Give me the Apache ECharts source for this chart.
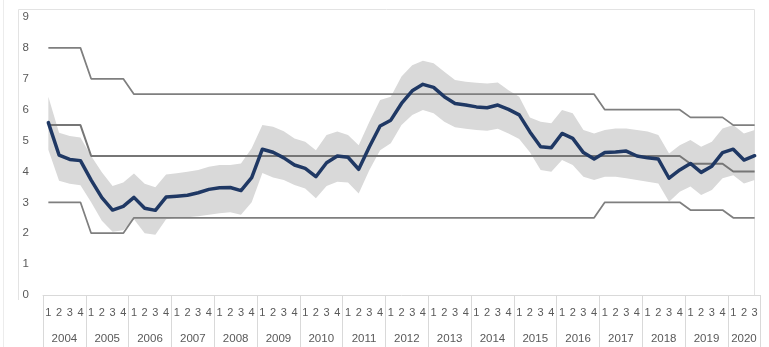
<!DOCTYPE html>
<html>
<head>
<meta charset="utf-8">
<script src="https://cdn.jsdelivr.net/npm/echarts@6/dist/echarts.min.js"></script>
<style>
  html, body { margin: 0; padding: 0; background: #ffffff; }
  #chart { width: 769px; height: 347px; }
</style>
</head>
<body>
<div id="chart"></div>
<script>
// Years on the axis and how many quarters each one covers
const years = ['2004','2005','2006','2007','2008','2009','2010','2011','2012',
               '2013','2014','2015','2016','2017','2018','2019','2020'];
const quartersPerYear = [4,4,4,4,4,4,4,4,4,4,4,4,4,4,4,4,3];

// Expected inflation (%), one value per quarter
const expected = [
  5.58, 4.53, 4.39, 4.35,   // 2004
  3.72, 3.15, 2.75, 2.87,   // 2005
  3.16, 2.81, 2.74, 3.17,   // 2006
  3.20, 3.23, 3.31, 3.42,   // 2007
  3.47, 3.48, 3.38, 3.80,   // 2008
  4.72, 4.62, 4.44, 4.21,   // 2009
  4.10, 3.83, 4.28, 4.50,   // 2010
  4.46, 4.07, 4.80, 5.47,   // 2011
  5.66, 6.20, 6.61, 6.82,   // 2012
  6.72, 6.42, 6.20, 6.15,   // 2013
  6.09, 6.06, 6.15, 6.01,   // 2014
  5.83, 5.28, 4.80, 4.77,   // 2015
  5.23, 5.07, 4.61, 4.40,   // 2016
  4.61, 4.63, 4.66, 4.50,   // 2017
  4.44, 4.40, 3.78, 4.05,   // 2018
  4.26, 3.97, 4.17, 4.61,   // 2019
  4.72, 4.37, 4.51          // 2020
];

// Dispersion band around the expectation: lower and upper bounds
const bandLow = [
  4.70, 3.70, 3.60, 3.55,
  3.00, 2.40, 2.05, 2.10,
  2.45, 2.00, 1.95, 2.45,
  2.50, 2.52, 2.55, 2.60,
  2.65, 2.68, 2.60, 3.00,
  3.95, 3.80, 3.72, 3.56,
  3.45, 3.13, 3.53, 3.67,
  3.64, 3.29, 4.05, 4.69,
  4.91, 5.50, 5.83, 5.99,
  5.88, 5.61, 5.43, 5.38,
  5.34, 5.32, 5.38, 5.23,
  5.05, 4.62, 4.05, 3.99,
  4.37, 4.21, 3.83, 3.72,
  3.83, 3.83, 3.78, 3.72,
  3.67, 3.61, 3.02, 3.34,
  3.51, 3.24, 3.40, 3.78,
  3.88, 3.61, 3.72
];
const bandHigh = [
  6.42, 5.25, 5.15, 5.10,
  4.50, 3.97, 3.53, 3.64,
  3.93, 3.60, 3.49, 3.90,
  3.94, 3.99, 4.05, 4.15,
  4.21, 4.21, 4.26, 4.75,
  5.50, 5.45, 5.30, 5.07,
  4.96, 4.69, 5.18, 5.29,
  5.18, 4.85, 5.61, 6.31,
  6.42, 7.07, 7.44, 7.58,
  7.50, 7.23, 6.96, 6.90,
  6.87, 6.85, 6.88, 6.63,
  6.42, 5.75, 5.61, 5.56,
  5.99, 5.88, 5.34, 5.23,
  5.34, 5.39, 5.39, 5.34,
  5.29, 5.18, 4.58, 4.85,
  5.02, 4.80, 4.96, 5.39,
  5.50, 5.23, 5.34
];

// Inflation target and its tolerance interval, per quarter
const targetUpper = [
  8, 8, 8, 8,
  7, 7, 7, 7,
  6.5, 6.5, 6.5, 6.5,
  6.5, 6.5, 6.5, 6.5,
  6.5, 6.5, 6.5, 6.5,
  6.5, 6.5, 6.5, 6.5,
  6.5, 6.5, 6.5, 6.5,
  6.5, 6.5, 6.5, 6.5,
  6.5, 6.5, 6.5, 6.5,
  6.5, 6.5, 6.5, 6.5,
  6.5, 6.5, 6.5, 6.5,
  6.5, 6.5, 6.5, 6.5,
  6.5, 6.5, 6.5, 6.5,
  6, 6, 6, 6,
  6, 6, 6, 6,
  5.75, 5.75, 5.75, 5.75,
  5.5, 5.5, 5.5
];
const targetCenter = [
  5.5, 5.5, 5.5, 5.5,
  4.5, 4.5, 4.5, 4.5,
  4.5, 4.5, 4.5, 4.5,
  4.5, 4.5, 4.5, 4.5,
  4.5, 4.5, 4.5, 4.5,
  4.5, 4.5, 4.5, 4.5,
  4.5, 4.5, 4.5, 4.5,
  4.5, 4.5, 4.5, 4.5,
  4.5, 4.5, 4.5, 4.5,
  4.5, 4.5, 4.5, 4.5,
  4.5, 4.5, 4.5, 4.5,
  4.5, 4.5, 4.5, 4.5,
  4.5, 4.5, 4.5, 4.5,
  4.5, 4.5, 4.5, 4.5,
  4.5, 4.5, 4.5, 4.5,
  4.25, 4.25, 4.25, 4.25,
  4, 4, 4
];
const targetLower = [
  3, 3, 3, 3,
  2, 2, 2, 2,
  2.5, 2.5, 2.5, 2.5,
  2.5, 2.5, 2.5, 2.5,
  2.5, 2.5, 2.5, 2.5,
  2.5, 2.5, 2.5, 2.5,
  2.5, 2.5, 2.5, 2.5,
  2.5, 2.5, 2.5, 2.5,
  2.5, 2.5, 2.5, 2.5,
  2.5, 2.5, 2.5, 2.5,
  2.5, 2.5, 2.5, 2.5,
  2.5, 2.5, 2.5, 2.5,
  2.5, 2.5, 2.5, 2.5,
  3, 3, 3, 3,
  3, 3, 3, 3,
  2.75, 2.75, 2.75, 2.75,
  2.5, 2.5, 2.5
];

// Value axis ticks
const yMin = 0, yMax = 9, yStep = 1;

// Category keys "year-quarter"
const categories = [];
years.forEach(function (y, k) {
  for (let q = 1; q <= quartersPerYear[k]; q++) categories.push(y + '-' + q);
});
const bandSpan = bandHigh.map(function (h, i) { return +(h - bandLow[i]).toFixed(2); });

function quarterOf(key) { return key.split('-')[1]; }
function yearOf(key) { return key.split('-')[0]; }
function isFullYear(y) { return quartersPerYear[years.indexOf(y)] === 4; }

const labelFont = 'Liberation Sans, Arial, sans-serif';
const labelColor = '#595959';
const tableLine = '#d9d9d9';
const targetColor = '#7f7f7f';

const chart = echarts.init(document.getElementById('chart'), null, { renderer: 'canvas' });

chart.setOption({
  animation: false,
  backgroundColor: '#ffffff',
  grid: { left: 43, right: 9, top: 17, bottom: 52, containLabel: false },
  graphic: [
    // light chart-area frame
    { type: 'polyline', silent: true, z: -1,
      shape: { points: [[18.5, 300], [18.5, 9.5], [754.5, 9.5], [754.5, 295]] },
      style: { fill: null, stroke: '#e3e3e3', lineWidth: 1 } },
    { type: 'line', silent: true, z: -1,
      shape: { x1: 3.5, y1: 0, x2: 3.5, y2: 347 },
      style: { stroke: '#ececec', lineWidth: 1 } }
  ],
  xAxis: [
    {
      // quarter row, with year separators drawn as long ticks
      type: 'category',
      data: categories,
      boundaryGap: true,
      position: 'bottom',
      axisLine: { show: true, lineStyle: { color: tableLine, width: 1 } },
      axisTick: {
        show: true,
        length: 52,
        interval: function (index, value) { return quarterOf(value) === '1'; },
        lineStyle: { color: tableLine, width: 1 }
      },
      axisLabel: {
        interval: 0,
        margin: 12,
        fontFamily: labelFont,
        fontSize: 11,
        color: labelColor,
        formatter: function (value) { return quarterOf(value); }
      },
      splitLine: { show: false }
    },
    {
      // year row, one label centred under each year's quarters
      type: 'category',
      data: categories,
      boundaryGap: true,
      position: 'bottom',
      gridIndex: 0,
      axisLine: { show: false },
      axisTick: { show: false },
      axisLabel: {
        interval: function (index, value) { return quarterOf(value) === '2'; },
        margin: 38,
        fontFamily: labelFont,
        fontSize: 11.5,
        color: labelColor,
        formatter: function (value) {
          const y = yearOf(value);
          return isFullYear(y) ? '{full|' + y + '}' : '{part|' + y + '}';
        },
        rich: {
          full: { padding: [0, 0, 0, 10.7], fontFamily: labelFont, fontSize: 11.5, color: labelColor },
          part: { fontFamily: labelFont, fontSize: 11.5, color: labelColor }
        }
      },
      splitLine: { show: false }
    }
  ],
  yAxis: {
    type: 'value',
    min: yMin,
    max: yMax,
    interval: yStep,
    axisLine: { show: false },
    axisTick: { show: false },
    splitLine: { show: false },
    axisLabel: {
      margin: 14,
      fontFamily: labelFont,
      fontSize: 11.5,
      color: labelColor
    }
  },
  series: [
    {
      name: 'bandBase',
      type: 'line',
      data: bandLow,
      stack: 'band',
      symbol: 'none',
      silent: true,
      lineStyle: { opacity: 0 },
      z: 1
    },
    {
      name: 'band',
      type: 'line',
      data: bandSpan,
      stack: 'band',
      symbol: 'none',
      silent: true,
      lineStyle: { opacity: 0 },
      areaStyle: { color: '#d9d9d9', opacity: 1 },
      z: 1
    },
    {
      name: 'targetUpper',
      type: 'line',
      data: targetUpper,
      symbol: 'none',
      lineStyle: { color: targetColor, width: 1.75 },
      z: 2
    },
    {
      name: 'targetCenter',
      type: 'line',
      data: targetCenter,
      symbol: 'none',
      lineStyle: { color: '#767676', width: 2 },
      z: 2
    },
    {
      name: 'targetLower',
      type: 'line',
      data: targetLower,
      symbol: 'none',
      lineStyle: { color: targetColor, width: 1.75 },
      z: 2
    },
    {
      name: 'expected',
      type: 'line',
      data: expected,
      symbol: 'none',
      lineStyle: { color: '#1f3864', width: 3.5, join: 'round', cap: 'round' },
      z: 3
    }
  ]
});
</script>
</body>
</html>
